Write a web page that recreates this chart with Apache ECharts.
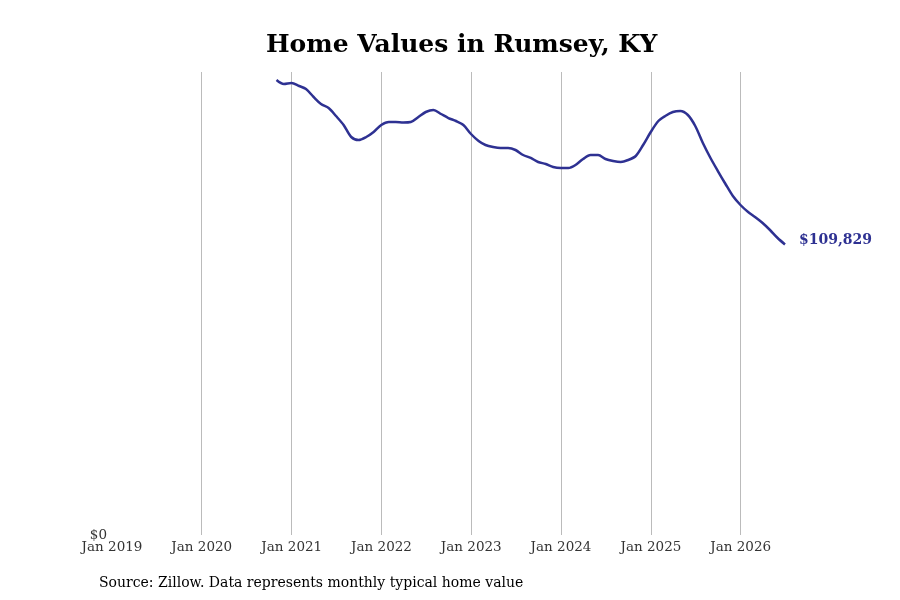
<!DOCTYPE html>
<html>
<head>
<meta charset="utf-8">
<script src="https://cdn.jsdelivr.net/npm/echarts@6/dist/echarts.min.js"></script>
<style>
  html, body { margin: 0; padding: 0; background: #fff; }
  #chart { width: 900px; height: 600px; }
</style>
</head>
<body>
<div id="chart"></div>
<script>
// monthly typical home value, Oct 2020 .. Jun 2026 (month end)
const startMonth = [2020, 9];
const homeValues = [
  172000, 170460, 170840, 169710, 168580, 165550, 162900, 161390, 158370, 154970,
  150430, 149300, 150430, 152320, 154970, 156100, 156100, 155910, 156100, 157990,
  159880, 160640, 159130, 157610, 156480, 154970, 151570, 148920, 147410, 146650,
  146270, 146270, 145520, 143630, 142500, 140980, 140230, 139090, 138720, 138720,
  139850, 142120, 143630, 143630, 142120, 141360, 140980, 141740, 143250, 147410,
  152320, 156480, 158370, 159880, 160260, 158750, 154590, 148160, 142500, 137580,
  132670, 128130, 124730, 122080, 120190, 117930, 115280, 112260, 109829
];
const xTicks = ['Jan 2019', 'Jan 2020', 'Jan 2021', 'Jan 2022', 'Jan 2023', 'Jan 2024', 'Jan 2025', 'Jan 2026'];
const gridYears = [2020, 2021, 2022, 2023, 2024, 2025, 2026];

function monthEnd(i) {
  const d = new Date(Date.UTC(startMonth[0], startMonth[1] + i + 1, 0));
  return d.getTime();
}
const seriesData = homeValues.map((v, i) => [monthEnd(i), v]);
const xMin = Date.UTC(2019, 0, 1);
const xMax = seriesData[seriesData.length - 1][0];
const serif = 'DejaVu Serif';
const lineColor = '#2e3192';

const chart = echarts.init(document.getElementById('chart'));
chart.setOption({
  animation: false,
  title: {
    text: 'Home Values in Rumsey, KY',
    left: 261,
    top: 28,
    textStyle: { fontFamily: serif, fontSize: 25, fontWeight: 'bold', color: '#000' }
  },
  graphic: [{
    type: 'text',
    left: 99,
    top: 576,
    style: {
      text: 'Source: Zillow. Data represents monthly typical home value',
      font: '14px "DejaVu Serif"',
      fill: '#000'
    }
  }],
  grid: { left: 112, right: 900 - 785, top: 72, bottom: 600 - 535 },
  xAxis: {
    type: 'time',
    min: xMin,
    max: xMax,
    splitNumber: 8,
    minInterval: 365 * 24 * 3600 * 1000,
    axisLine: { show: false },
    axisTick: { show: false },
    axisLabel: {
      fontFamily: serif,
      fontSize: 13.5,
      color: '#333',
      margin: 5,
      showMinLabel: true,
      formatter: function (val) {
        const d = new Date(val);
        const label = 'Jan ' + d.getUTCFullYear();
        return xTicks.indexOf(label) >= 0 && d.getUTCMonth() === 0 ? label : '';
      }
    },
    splitLine: { show: false }
  },
  yAxis: {
    type: 'value',
    min: 0,
    max: 175000,
    interval: 175000,
    axisLine: { show: false },
    axisTick: { show: false },
    splitLine: { show: false },
    axisLabel: {
      fontFamily: serif,
      fontSize: 13.5,
      color: '#333',
      margin: 5,
      formatter: function (v) { return v === 0 ? '$0' : ''; }
    }
  },
  series: [{
    type: 'line',
    data: seriesData,
    showSymbol: false,
    smooth: 0.3,
    z: 3,
    lineStyle: { color: lineColor, width: 2.5 },
    endLabel: {
      show: true,
      fontFamily: serif,
      fontSize: 14,
      fontWeight: 'bold',
      color: lineColor,
      distance: 14,
      offset: [0, -4],
      formatter: function (p) { return '$' + p.value[1].toLocaleString('en-US'); }
    },
    markLine: {
      silent: true,
      symbol: 'none',
      z: 1,
      label: { show: false },
      lineStyle: { color: '#bbb', width: 1, type: 'solid' },
      data: gridYears.map(y => ({ xAxis: Date.UTC(y, 0, 1) }))
    }
  }]
});
</script>
</body>
</html>
